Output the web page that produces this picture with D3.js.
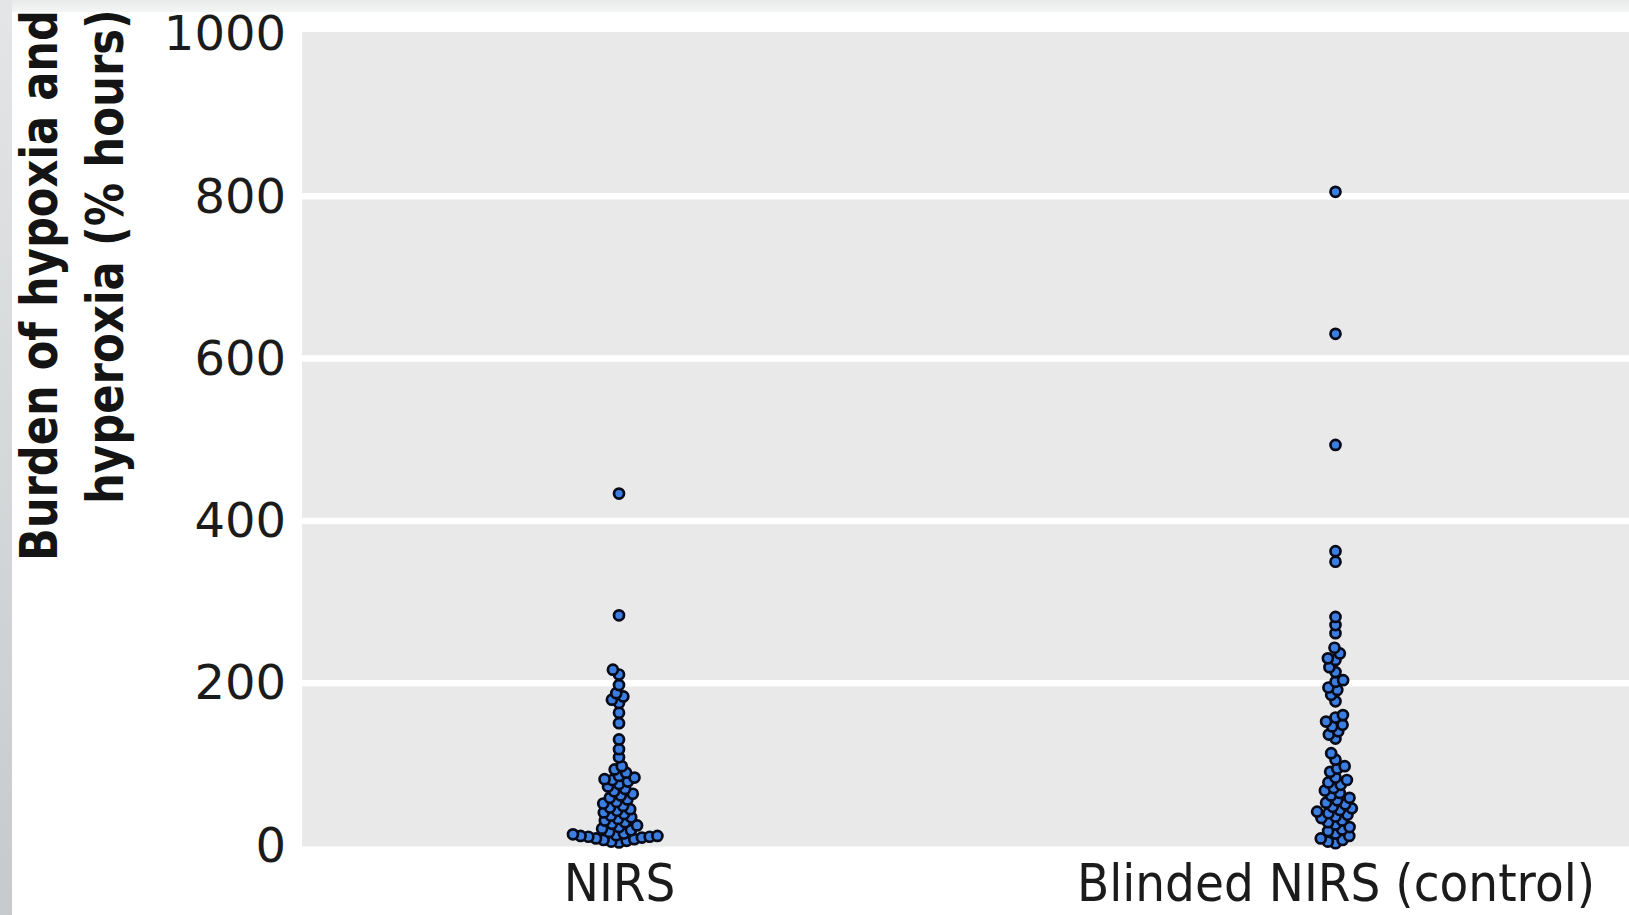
<!DOCTYPE html>
<html>
<head>
<meta charset="utf-8">
<script src="https://cdn.jsdelivr.net/npm/d3@7"></script>
<style>
  html, body { margin: 0; padding: 0; background: #ffffff; overflow: hidden; }
  svg { display: block; }
</style>
</head>
<body>
<svg id="chart" width="1629" height="915"></svg>
<script>
// ---- Data -------------------------------------------------------------
const categories = ["NIRS", "Blinded NIRS (control)"];

// Burden of hypoxia and hyperoxia (% hours), one value per infant
const nirsValues = [
  433, 283, 216, 210, 197, 187, 183, 179, 175, 163, 150, 130, 118, 108, 97,
  93, 89, 85, 83, 81, 80, 78,
  75, 72, 69, 66, 63, 61,
  58, 56, 53, 51, 48, 46, 44, 42, 40, 38, 36, 34, 32, 30, 28, 26, 24, 22, 20,
  18, 16, 14, 13, 12, 11, 11, 10, 10, 9, 8, 7, 6, 5, 4, 3
];

const controlValues = [
  805, 630, 493, 362, 349,
  281, 271, 261,
  243, 236, 230, 228, 219, 213,
  203, 201, 194, 191, 185, 177,
  160, 157, 152, 148, 146, 140, 136, 131,
  113, 105, 97, 94, 90,
  83, 80, 77, 74,
  70, 67, 64, 61, 58, 55, 52, 50,
  47, 45, 43, 41, 39, 37, 35, 33,
  30, 28, 25, 22, 19, 17,
  14, 11, 8, 6, 4, 2
];

const yTicks = [0, 200, 400, 600, 800, 1000];
const yTitleLines = ["Burden of hypoxia and", "hyperoxia (% hours)"];

// ---- Layout -----------------------------------------------------------
const W = 1629, H = 915;
const panel = { left: 302, right: 1629, top: 32, bottom: 846.5 };

const svg = d3.select("#chart");
const defs = svg.append("defs");

// soft grey frame strips along the top and left edges
const gLeft = defs.append("linearGradient").attr("id", "edgeLeft")
  .attr("x1", 0).attr("y1", 0).attr("x2", 0).attr("y2", 1);
gLeft.append("stop").attr("offset", "0%").attr("stop-color", "#e3e5e6");
gLeft.append("stop").attr("offset", "100%").attr("stop-color", "#c7cacc");
const gTop = defs.append("linearGradient").attr("id", "edgeTop")
  .attr("x1", 0).attr("y1", 0).attr("x2", 0).attr("y2", 1);
gTop.append("stop").attr("offset", "0%").attr("stop-color", "#e8eaea");
gTop.append("stop").attr("offset", "100%").attr("stop-color", "#f4f5f5");

svg.append("rect").attr("x", 0).attr("y", 0).attr("width", W).attr("height", H).attr("fill", "#ffffff");
svg.append("rect").attr("x", 0).attr("y", 0).attr("width", W).attr("height", 12).attr("fill", "url(#edgeTop)");
svg.append("rect").attr("x", 0).attr("y", 0).attr("width", 12).attr("height", H).attr("fill", "url(#edgeLeft)");

// ---- Scales -----------------------------------------------------------
const y = d3.scaleLinear().domain([-2, 1002]).range([panel.bottom, panel.top]);
const x = d3.scalePoint().domain(categories).range([619, 1335.5]);

// ---- Panel and grid ---------------------------------------------------
svg.append("rect")
  .attr("x", panel.left).attr("y", panel.top)
  .attr("width", panel.right - panel.left).attr("height", panel.bottom - panel.top)
  .attr("fill", "#e9e9e9");

const grid = svg.append("g")
  .attr("transform", `translate(${panel.left},0)`)
  .call(d3.axisLeft(y)
    .tickValues(yTicks.filter(t => t > 0 && t < 1000))
    .tickSize(-(panel.right - panel.left))
    .tickFormat(""));
grid.select(".domain").remove();
grid.selectAll(".tick line").attr("stroke", "#ffffff").attr("stroke-width", 6.5);

// ---- Y axis labels ----------------------------------------------------
const yAxis = svg.append("g")
  .attr("transform", `translate(${panel.left},0)`)
  .call(d3.axisLeft(y).tickValues(yTicks).tickFormat(d3.format("d")).tickSize(0).tickPadding(16));
yAxis.select(".domain").remove();
yAxis.selectAll(".tick text")
  .attr("font-family", "'DejaVu Sans', sans-serif")
  .attr("font-size", 48)
  .attr("fill", "#1b1b1b")
  .attr("dy", "0.34em");

// ---- X axis labels ----------------------------------------------------
const xAxis = svg.append("g")
  .attr("transform", `translate(0,${panel.bottom})`)
  .call(d3.axisBottom(x).tickSize(0).tickPadding(0));
xAxis.select(".domain").remove();
xAxis.selectAll(".tick text")
  .attr("font-family", "'DejaVu Sans', sans-serif")
  .attr("font-size", 52)
  .attr("fill", "#1b1b1b")
  .attr("dy", null)
  .attr("y", 55)
  .attr("transform", "scale(0.905,1)")
  .attr("x", 0);

// ---- Y axis title (two bold lines, reading upward) ---------------------
const titleSpec = [
  { tx: 57, ty: 561, len: 551 },
  { tx: 123, ty: 504, len: 495 }
];
yTitleLines.forEach((line, i) => {
  const s = titleSpec[i];
  const t = svg.append("text")
    .attr("font-family", "'DejaVu Sans', sans-serif")
    .attr("font-weight", "bold")
    .attr("font-size", 52)
    .attr("fill", "#141414")
    .attr("text-anchor", "start")
    .text(line);
  const natural = t.node().getComputedTextLength();
  const k = s.len / natural;
  t.attr("transform", `translate(${s.tx},${s.ty}) rotate(-90) scale(${k},1)`);
});

// ---- Beeswarm points --------------------------------------------------
const collideR = 3.9;   // half the minimum centre spacing (dots overlap a little)
const dotR = 5.0;

function swarm(values, cx) {
  const placed = [];
  const sorted = values.slice().sort((a, b) => a - b);
  const d2 = (2 * collideR) ** 2;
  for (const v of sorted) {
    const py = y(v);
    const near = placed.filter(p => Math.abs(p.y - py) < 2 * collideR);
    const cands = [0];
    for (const p of near) {
      const dx = Math.sqrt(Math.max(0, d2 - (p.y - py) ** 2));
      cands.push(p.dx + dx, p.dx - dx);
    }
    cands.sort((a, b) => Math.abs(a) - Math.abs(b) || a - b);
    for (const c of cands) {
      if (near.every(p => (p.dx - c) ** 2 + (p.y - py) ** 2 >= d2 - 1e-6)) {
        placed.push({ v, y: py, dx: c });
        break;
      }
    }
  }
  return placed.map(p => ({ ...p, x: cx + p.dx }));
}

const groups = [
  { name: categories[0], values: nirsValues },
  { name: categories[1], values: controlValues }
];

const dotsG = svg.append("g");
groups.forEach(g => {
  const pts = swarm(g.values, x(g.name));
  dotsG.append("g").selectAll("circle")
    .data(pts)
    .join("circle")
    .attr("cx", d => d.x)
    .attr("cy", d => d.y)
    .attr("r", dotR)
    .attr("fill", "#3b7ee0")
    .attr("stroke", "#070a18")
    .attr("stroke-width", 2.7);
});
</script>
</body>
</html>
